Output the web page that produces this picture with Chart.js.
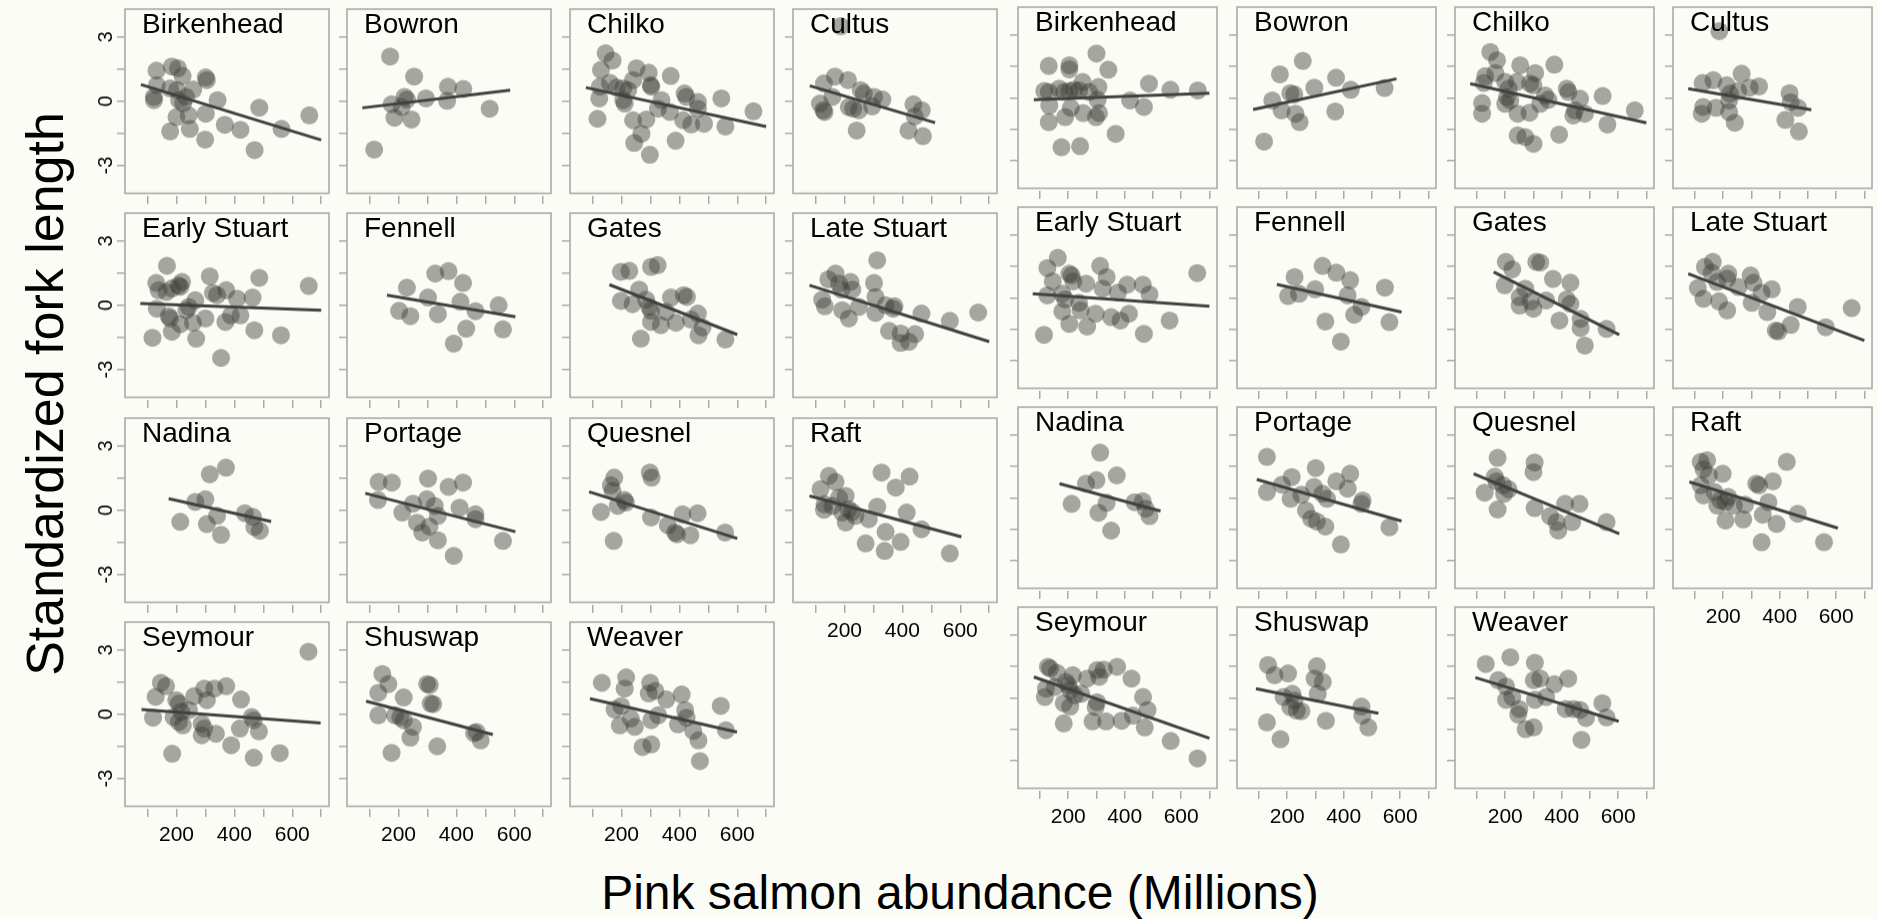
<!DOCTYPE html>
<html><head><meta charset="utf-8">
<script src="https://cdn.jsdelivr.net/npm/chart.js@4.4.1/dist/chart.umd.min.js"></script>
<style>
html,body{margin:0;padding:0;background:#fcfcf6;}
#wrap{position:relative;width:1878px;height:919px;overflow:hidden;font-family:"Liberation Sans",Arial,Helvetica,sans-serif;color:#000;}
#wrap canvas{position:absolute;}
.ptitle{position:absolute;font-size:28px;line-height:1;white-space:nowrap;}
#ytitle{position:absolute;left:45px;top:394px;transform:translate(-50%,-50%) rotate(-90deg);font-size:52px;line-height:1;white-space:nowrap;}
#xtitle{position:absolute;left:960px;top:869px;transform:translateX(-50%);font-size:48px;line-height:1;white-space:nowrap;}
</style></head>
<body><div id="wrap"></div>
<script>
// ---------------- DATA ----------------
const sites = ["Birkenhead","Bowron","Chilko","Cultus","Early Stuart","Fennell","Gates","Late Stuart","Nadina","Portage","Quesnel","Raft","Seymour","Shuswap","Weaver"];
const xTicks = [100,200,300,400,500,600,700];
const xTickLabels = ["","200","","400","","600",""];
const yTicks = [-3,-1.5,0,1.5,3];
const yTickLabels = ["-3","","0","","3"];
const yAxisTitle = "Standardized fork length";
const xAxisTitle = "Pink salmon abundance (Millions)";

// Left group: [abundance, standardized length]
const L_Birkenhead = [[131,1.43],[184,1.62],[205,1.54],[221,1.18],[132,0.75],[122,0.2],[122,0.05],[178,0.6],[202,0.52],[258,0.55],[233,0.2],[209,0.05],[223,-0.1],[200,-0.74],[242,-0.66],[178,-1.41],[246,-1.29],[301,1.11],[305,0.99],[301,-0.58],[342,0.05],[367,-1.1],[421,-1.33],[299,-1.79],[470,-2.28],[486,-0.3],[563,-1.29],[659,-0.66]];
const L_Bowron = [[171,2.09],[254,1.15],[116,-2.26],[176,-0.14],[221,0.2],[229,0.08],[186,-0.77],[245,-0.85],[295,0.13],[371,0.68],[368,0.02],[424,0.57],[515,-0.35],[211,-0.27]];
const L_Chilko = [[145,2.24],[169,1.9],[129,1.46],[252,1.54],[294,1.33],[370,1.18],[301,0.75],[303,0.68],[125,0.68],[160,0.86],[183,0.64],[206,0.6],[223,0.52],[240,0.99],[123,0.13],[206,0.05],[211,-0.11],[338,0.05],[326,-0.35],[367,-0.5],[418,0.36],[424,0.2],[464,-0.03],[464,-0.35],[413,-0.89],[441,-1.08],[485,-1.05],[545,0.13],[559,-1.18],[656,-0.47],[117,-0.82],[240,-0.89],[286,-0.85],[269,-1.52],[244,-1.95],[298,-2.5],[387,-1.84]];
const L_Cultus = [[187,3.5],[129,0.83],[167,1.15],[212,0.99],[256,0.52],[267,0.36],[302,0.2],[331,0.08],[158,0.2],[115,-0.11],[127,-0.42],[131,-0.5],[215,-0.27],[230,-0.35],[250,-0.42],[296,-0.24],[438,-0.14],[467,-0.42],[443,-0.71],[242,-1.37],[421,-1.37],[471,-1.63]];
const L_EarlyStuart = [[167,1.84],[130,1.04],[138,0.7],[165,0.62],[184,0.78],[207,0.93],[219,1.09],[213,0.86],[132,-0.16],[173,-0.51],[178,-0.62],[242,-0.08],[265,0.23],[213,-0.89],[184,-1.24],[257,-0.82],[234,-0.23],[300,-0.62],[117,-1.52],[268,-1.56],[315,1.35],[326,0.58],[340,0.47],[372,0.7],[409,0.31],[369,-0.78],[388,-0.47],[421,-0.47],[354,-2.46],[463,0.36],[486,1.28],[469,-1.17],[561,-1.4],[657,0.9]];
const L_Fennell = [[229,0.82],[202,-0.26],[241,-0.51],[302,0.36],[327,1.48],[373,1.59],[423,1.04],[414,0.16],[336,-0.42],[466,-0.28],[434,-1.09],[391,-1.79],[546,0],[561,-1.13]];
const L_Gates = [[198,1.56],[227,1.6],[302,1.79],[325,1.87],[261,0.73],[198,0.2],[238,0.05],[285,0.26],[296,-0.08],[302,-0.26],[302,-0.78],[336,-0.93],[354,-0.31],[371,0.36],[388,-0.82],[415,0.47],[426,0.39],[440,-0.67],[464,-0.39],[480,-1.04],[466,-1.4],[267,-1.56],[559,-1.6]];
const L_LateStuart = [[169,1.48],[144,1.21],[181,1.01],[189,0.73],[221,1.09],[227,0.73],[123,0.26],[132,-0.05],[192,-0.23],[215,-0.62],[250,-0.08],[313,2.1],[302,1.04],[307,0.39],[307,-0.36],[342,0],[373,-0.05],[368,-0.16],[466,-0.39],[354,-1.2],[394,-1.32],[394,-1.76],[423,-1.71],[444,-1.35],[564,-0.73],[662,-0.34]];
const L_Nadina = [[315,1.68],[371,1.99],[265,0.39],[300,0.51],[213,-0.54],[340,-0.26],[305,-0.65],[354,-1.15],[436,-0.14],[464,-0.31],[469,-0.78],[488,-0.96]];
const L_Portage = [[131,1.32],[177,1.29],[129,0.48],[213,-0.11],[250,0.31],[302,1.48],[298,0.51],[325,0.2],[336,-0.26],[264,-0.58],[282,-1.04],[307,-0.76],[336,-1.4],[373,1.09],[423,1.29],[411,0.12],[466,-0.19],[466,-0.42],[391,-2.13],[561,-1.43]];
const L_Quesnel = [[175,1.52],[163,1.17],[169,0.9],[210,0.48],[215,0.36],[187,0.2],[129,-0.08],[173,-1.43],[298,1.76],[304,1.52],[302,-0.34],[360,-0.7],[385,-1.04],[392,-1.12],[411,-0.19],[463,-0.14],[438,-1.17],[558,-1.04]];
const L_Raft = [[146,1.6],[169,1.32],[117,0.98],[131,0.28],[129,0.02],[158,0.2],[181,0.59],[204,0.67],[192,-0.11],[204,-0.57],[213,0.05],[227,-0.08],[238,-0.26],[284,-0.42],[313,0.17],[328,1.76],[377,1.06],[425,1.57],[342,-1.01],[273,-1.55],[339,-1.9],[394,-1.48],[415,-0.11],[466,-0.89],[564,-2.02]];
const L_Seymour = [[146,1.47],[164,1.31],[128,0.81],[119,-0.16],[199,0.66],[208,0.5],[217,0.11],[243,0.19],[190,-0.13],[208,-0.36],[222,-0.52],[261,0.84],[296,1.2],[331,1.2],[305,0.66],[287,-0.44],[296,-0.67],[287,-0.98],[336,-0.91],[372,1.31],[423,0.69],[419,-0.67],[460,-0.13],[467,-0.28],[485,-0.8],[389,-1.45],[467,-2.03],[557,-1.81],[185,-1.84],[656,2.92]];
const L_Shuswap = [[144,1.88],[165,1.41],[130,1.0],[218,0.78],[130,-0.05],[188,-0.05],[206,-0.13],[218,-0.28],[250,-0.59],[241,-1.09],[176,-1.8],[299,1.41],[308,1.36],[311,0.5],[320,0.47],[334,-1.5],[461,-0.88],[470,-0.83],[484,-1.22]];
const L_Weaver = [[132,1.47],[216,1.72],[211,1.2],[199,0.38],[176,0.22],[194,-0.52],[232,-0.2],[246,-0.59],[299,1.47],[317,1.09],[294,0.97],[303,-0.28],[327,-0.05],[355,0.69],[408,0.92],[420,0.19],[395,-0.47],[425,-0.16],[448,-0.78],[466,-1.22],[273,-1.53],[303,-1.41],[471,-2.19],[543,0.39],[561,-0.75]];

// Left group fitted lines: [[x1,y1],[x2,y2]]
const L_fits = [
  [[77,0.78],[700,-1.81]], [[75,-0.31],[586,0.52]], [[77,0.64],[700,-1.18]], [[80,0.72],[513,-1.0]],
  [[75,0.08],[700,-0.23]], [[160,0.47],[604,-0.54]], [[158,0.96],[600,-1.37]], [[79,0.93],[700,-1.70]],
  [[173,0.54],[527,-0.53]], [[85,0.79],[604,-1.0]], [[88,0.86],[600,-1.32]], [[79,0.67],[604,-1.24]],
  [[79,0.22],[698,-0.41]], [[88,0.61],[526,-0.95]], [[91,0.73],[599,-0.83]]
];

// Right group
const R_Birkenhead = [[131,1.51],[204,1.54],[204,1.35],[300,2.1],[342,1.33],[115,0.32],[131,0.27],[168,0.43],[186,0.27],[204,0.32],[221,0.38],[239,0.35],[251,0.75],[274,0.27],[307,0.51],[133,-0.37],[131,-1.16],[189,-0.92],[209,-0.48],[253,-0.73],[298,-0.92],[309,-0.73],[304,-0.1],[176,-2.35],[242,-2.3],[368,-1.71],[419,-0.13],[468,-0.44],[486,0.67],[562,0.38],[659,0.35]];
const R_Bowron = [[174,1.11],[255,1.75],[118,-2.08],[147,-0.13],[180,-0.6],[211,0.22],[225,0.16],[229,-0.76],[244,-1.16],[296,0.48],[370,-0.65],[373,0.95],[425,0.38],[545,0.46]];
const R_Chilko = [[147,2.17],[171,1.78],[129,1.02],[165,1.17],[124,0.7],[118,-0.25],[118,-0.76],[200,0.75],[212,0.43],[206,0.03],[200,-0.29],[218,-0.13],[241,0.75],[253,1.54],[288,0.67],[306,1.17],[300,0.59],[244,-0.76],[286,-0.71],[324,-0.29],[341,0.11],[353,-0.1],[374,1.57],[418,0.43],[424,0.27],[465,-0.05],[447,-0.6],[441,-0.84],[482,-0.76],[391,-1.75],[244,-1.79],[271,-1.87],[300,-2.19],[545,0.08],[562,-1.27],[659,-0.6]];
const R_Cultus = [[186,3.16],[127,0.7],[165,0.83],[212,0.59],[265,1.14],[224,0.19],[253,0.32],[294,0.48],[327,0.54],[129,-0.44],[124,-0.76],[174,-0.48],[221,-0.13],[221,-0.68],[241,-1.19],[435,0.22],[439,-0.21],[465,-0.48],[420,-1.05],[468,-1.6]];
const R_EarlyStuart = [[163,1.89],[126,1.41],[204,1.14],[212,1.06],[313,1.51],[336,0.98],[263,0.67],[218,0.78],[145,0.78],[126,0.11],[179,0.19],[189,-0.08],[238,-0.24],[244,-0.6],[179,-0.65],[297,-0.76],[204,-1.24],[267,-1.37],[322,0.43],[376,0.24],[409,0.62],[464,0.62],[488,0.16],[352,-0.92],[385,-1.08],[415,-0.76],[114,-1.76],[468,-1.71],[559,-1.08],[657,1.17]];
const R_Fennell = [[226,0.98],[203,0.08],[242,0.19],[299,0.4],[325,1.51],[374,1.19],[423,0.83],[414,0.11],[463,-0.44],[437,-0.81],[335,-1.13],[390,-2.08],[546,0.48],[562,-1.16]];
const R_Gates = [[202,1.7],[225,1.35],[310,1.7],[324,1.67],[198,0.59],[271,0.43],[251,0.03],[251,-0.37],[290,-0.17],[300,-0.52],[345,-0.13],[369,0.89],[431,0.71],[418,-0.08],[431,-0.29],[392,-1.08],[467,-1.0],[467,-1.44],[482,-2.27],[559,-1.48]];
const R_LateStuart = [[135,1.46],[163,1.7],[159,1.19],[218,1.14],[178,0.75],[214,0.9],[110,0.46],[130,-0.05],[185,-0.17],[214,-0.6],[254,0.51],[297,1.06],[307,0.71],[301,-0.24],[336,0.24],[372,0.4],[356,-0.68],[464,-0.44],[386,-1.56],[395,-1.6],[439,-1.29],[563,-1.4],[655,-0.49]];
const R_Nadina = [[313,2.14],[263,0.67],[300,0.83],[372,1.06],[212,-0.29],[336,-0.24],[307,-0.71],[352,-1.56],[435,-0.21],[464,-0.17],[474,-0.52],[488,-0.87]];
const R_Portage = [[128,1.94],[128,0.27],[181,0.62],[216,0.98],[212,-0.05],[250,0.14],[266,-0.6],[301,1.41],[295,0.51],[325,0.19],[341,-0.05],[285,-1.0],[305,-1.13],[335,-1.37],[374,0.78],[414,0.43],[423,1.14],[467,-0.13],[463,-0.29],[390,-2.22],[562,-1.4]];
const R_Quesnel = [[173,1.89],[163,1.0],[169,0.78],[192,0.59],[212,0.4],[127,0.24],[196,0.19],[173,-0.56],[304,1.67],[300,1.22],[304,-0.49],[359,-0.87],[382,-1.16],[388,-1.56],[412,-0.29],[463,-0.29],[437,-1.16],[559,-1.16]];
const R_Raft = [[120,1.7],[143,1.78],[130,1.35],[149,1.06],[120,0.59],[130,0.11],[169,0.27],[198,1.14],[189,-0.13],[208,-0.21],[218,0.03],[238,-0.37],[179,-0.37],[277,-0.33],[317,0.67],[327,0.59],[376,0.78],[360,-0.21],[340,-0.81],[208,-1.08],[271,-1.03],[389,-1.24],[425,1.7],[464,-0.76],[336,-2.11],[557,-2.11]];
const R_Seymour = [[136,1.39],[128,1.47],[160,1.18],[121,0.43],[117,0.03],[152,0.51],[192,0.75],[200,0.59],[216,1.07],[207,0.35],[223,0.11],[246,0.19],[184,-0.26],[207,-0.42],[267,0.91],[302,1.31],[326,1.34],[310,0.99],[302,-0.21],[297,-0.45],[286,-1.12],[334,-1.12],[373,1.47],[424,0.91],[465,0.03],[481,-0.58],[389,-1.09],[429,-0.85],[471,-1.41],[184,-1.22],[563,-2.05],[658,-2.88]];
const R_Shuswap = [[132,1.55],[155,1.07],[203,1.15],[187,0.03],[218,0.19],[226,-0.13],[211,-0.45],[234,-0.61],[250,-0.64],[128,-1.17],[176,-1.97],[305,1.5],[297,0.91],[326,0.75],[308,0.19],[337,-1.09],[463,-0.42],[466,-0.85],[487,-1.41]];
const R_Weaver = [[131,1.6],[218,1.92],[305,1.66],[175,0.83],[203,0.54],[203,-0.1],[225,0.03],[250,-0.53],[246,-0.8],[272,-1.49],[301,-1.41],[305,-0.1],[301,0.83],[324,0.91],[345,0.03],[374,0.64],[423,0.91],[414,-0.53],[442,-0.53],[465,-0.58],[486,-0.96],[470,-2.0],[544,-0.26],[559,-0.93]];

const R_fits = [
  [[78,-0.1],[700,0.22]], [[79,-0.56],[587,0.9]], [[76,0.67],[700,-1.19]], [[76,0.43],[512,-0.57]],
  [[74,0.19],[700,-0.41]], [[163,0.63],[605,-0.68]], [[159,1.22],[604,-1.76]], [[76,1.14],[700,-2.03]],
  [[169,0.67],[527,-0.63]], [[92,0.87],[605,-1.11]], [[88,1.14],[604,-1.71]], [[80,0.75],[606,-1.44]],
  [[78,0.99],[700,-1.92]], [[89,0.43],[523,-0.74]], [[94,0.96],[602,-1.12]]
];

const L_points = [L_Birkenhead,L_Bowron,L_Chilko,L_Cultus,L_EarlyStuart,L_Fennell,L_Gates,L_LateStuart,L_Nadina,L_Portage,L_Quesnel,L_Raft,L_Seymour,L_Shuswap,L_Weaver];
const R_points = [R_Birkenhead,R_Bowron,R_Chilko,R_Cultus,R_EarlyStuart,R_Fennell,R_Gates,R_LateStuart,R_Nadina,R_Portage,R_Quesnel,R_Raft,R_Seymour,R_Shuswap,R_Weaver];

// ---------------- LAYOUT / STYLE ----------------
const FONT = "'Liberation Sans', Arial, Helvetica, sans-serif";
Chart.defaults.font.family = FONT;
Chart.defaults.color = '#000';
const GEO = {
  L: {lefts:[125,347,570,793], tops:[9,213,418,622], w:204, h:184, yLabels:true},
  R: {lefts:[1018,1237,1455,1673], tops:[7,207,407,607], w:199, h:181, yLabels:false}
};
const X_MIN = 22, X_MAX = 727, Y_LIM = 4.3;
const GAP = 2.5;           // gap between frame and x tick marks
const FRAME = '#a9a9a9';
const POINT = 'rgba(60,62,55,0.45)';
const LINE = '#414141';
const wrap = document.getElementById('wrap');

const framePlugin = {
  id: 'frame',
  beforeDatasetsDraw(chart) {
    const a = chart.chartArea, ctx = chart.ctx;
    ctx.save();
    ctx.strokeStyle = FRAME;
    ctx.lineWidth = 1.6;
    ctx.strokeRect(a.left, a.top, a.right - a.left, a.bottom - GAP - a.top);
    ctx.restore();
  }
};

function panel(groupKey, idx, pts, fit) {
  const g = GEO[groupKey];
  const col = idx % 4, row = Math.floor(idx / 4);
  const pl = g.lefts[col], pt = g.tops[row], pw = g.w, ph = g.h;
  const showX = idx >= 11;
  const showY = g.yLabels && col === 0;
  const yW = 48, xH = 48, padTop = 30, padRight = 12;
  const cv = document.createElement('canvas');
  const W = yW + pw + padRight, H = padTop + ph + GAP + xH;
  cv.width = W; cv.height = H;
  cv.style.left = (pl - yW) + 'px'; cv.style.top = (pt - padTop) + 'px';
  cv.style.width = W + 'px'; cv.style.height = H + 'px';
  wrap.appendChild(cv);

  const t = document.createElement('div');
  t.className = 'ptitle';
  t.textContent = sites[idx];
  t.style.left = (pl + 17) + 'px';
  t.style.top = (pt + 0.5) + 'px';
  wrap.appendChild(t);

  const yMin = -Y_LIM - GAP * (2 * Y_LIM) / ph;
  const grid = {drawOnChartArea:false, drawTicks:true, tickLength:8, color:FRAME, lineWidth:1.5};
  new Chart(cv, {
    type: 'scatter',
    data: {
      datasets: [
        {data: fit.map(p => ({x:p[0], y:p[1]})), showLine:true, borderColor:LINE, borderWidth:3, pointRadius:0, order:0},
        {data: pts.map(p => ({x:p[0], y:p[1]})), pointRadius:9, pointHoverRadius:9, pointBackgroundColor:POINT, pointBorderWidth:0, backgroundColor:POINT, borderWidth:0, order:1}
      ]
    },
    options: {
      animation:false, responsive:false, devicePixelRatio:1, events:[],
      layout:{padding:{top:padTop, right:padRight, left:0, bottom:0}},
      plugins:{legend:{display:false}, tooltip:{enabled:false}},
      scales:{
        x:{type:'linear', position:'bottom', min:X_MIN, max:X_MAX,
           afterBuildTicks: s => { s.ticks = xTicks.map(v => ({value:v})); },
           afterFit: s => { s.height = xH; },
           grid: grid, border:{display:false},
           ticks:{display:showX, autoSkip:false, minRotation:0, maxRotation:0, padding:6, color:'#000',
                  font:{size:21, family:FONT}, callback:(v,i) => xTickLabels[i]}},
        y:{type:'linear', position:'left', min:yMin, max:Y_LIM,
           afterBuildTicks: s => { s.ticks = yTicks.map(v => ({value:v})); },
           afterFit: s => { s.width = yW; },
           grid: grid, border:{display:false},
           ticks:{display:showY, autoSkip:false, crossAlign:'center', minRotation:90, maxRotation:90, padding:1.5, color:'#000',
                  font:{size:20, family:FONT}, callback:(v,i) => yTickLabels[i]}}
      }
    },
    plugins:[framePlugin]
  });
}

L_points.forEach((p, i) => panel('L', i, p, L_fits[i]));
R_points.forEach((p, i) => panel('R', i, p, R_fits[i]));

const yt = document.createElement('div'); yt.id = 'ytitle'; yt.textContent = yAxisTitle; wrap.appendChild(yt);
const xt = document.createElement('div'); xt.id = 'xtitle'; xt.textContent = xAxisTitle; wrap.appendChild(xt);
</script>
</body></html>
